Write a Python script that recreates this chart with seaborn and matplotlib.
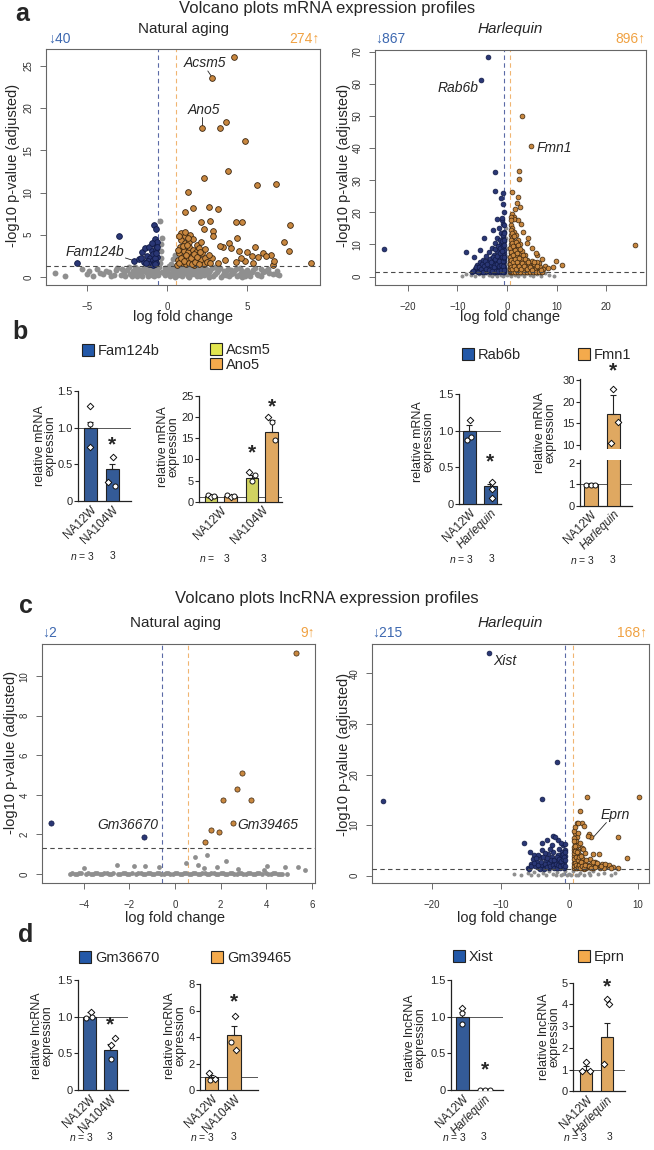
import pandas as pd
import matplotlib
matplotlib.use("Agg")
import matplotlib.pyplot as plt
import seaborn as sns
from matplotlib.patches import Patch

# ---------------- volcano data: (log fold change, -log10 adjusted p) ----------------
na_mrna_grey = [
    (-7.0, 0.45), (-6.4, 0.15), (-5.3, 1.0), (-4.9, 0.7), (-4.4, 0.9), (-4.0, 0.35), (-3.6, 0.6), (-3.1, 1.1),
    (-2.9, 0.25), (-2.5, 0.8), (-2.2, 0.1), (-2.0, 0.5), (-1.8, 1.0), (-1.6, 0.3), (-1.4, 0.7), (-1.2, 0.1),
    (-1.1, 1.2), (-0.9, 0.45), (-0.7, 0.9), (-0.55, 0.2), (-0.45, 1.6), (-0.4, 2.3), (-0.35, 3.1), (-0.4, 3.9),
    (-0.3, 4.6), (-0.46, 6.6), (-0.3, 0.6), (-0.15, 1.1), (-0.1, 0.2), (0.0, 0.7), (0.15, 0.35), (0.25, 1.5),
    (0.3, 1.0), (0.4, 2.1), (0.45, 0.5), (0.5, 2.6), (0.55, 1.2), (0.7, 0.2), (0.85, 0.8), (1.0, 0.4),
    (1.15, 1.1), (1.3, 0.15), (1.45, 0.7), (1.6, 1.2), (1.75, 0.35), (1.9, 0.9), (2.05, 0.1), (2.2, 0.6),
    (2.35, 1.1), (2.5, 0.3), (2.7, 0.8), (2.9, 0.15), (3.1, 0.55), (3.3, 1.05), (3.5, 0.25), (3.7, 0.75),
    (3.9, 0.1), (4.1, 0.5), (4.3, 0.95), (4.5, 0.2), (4.7, 0.65), (4.9, 0.1), (5.1, 0.4), (5.4, 0.8),
    (5.7, 0.2), (6.0, 0.55), (6.3, 1.0), (6.6, 0.3), (6.9, 0.7), (7.0, 0.25), (-2.7, 0.55), (-2.3, 0.35),
    (-1.9, 0.15), (-1.5, 0.95), (-1.0, 0.6), (-0.8, 0.15), (0.1, 1.25), (0.6, 0.55), (1.2, 0.75), (1.8, 0.55),
    (2.4, 0.45), (3.0, 1.15), (3.6, 0.45), (4.0, 0.8), (4.6, 0.45), (5.2, 0.15), (5.9, 0.9), (-3.3, 0.2),
    (-3.8, 0.75), (6.9, 0.3),
]
na_mrna_grey_band = [
    (-2.8, 0.9), (-2.6, 0.1), (-2.4, 1.2), (-2.1, 0.75), (-1.95, 0.4), (-1.7, 0.6), (-1.55, 0.15), (-1.35, 1.15),
    (-1.25, 0.45), (-1.05, 0.85), (-0.95, 0.2), (-0.85, 1.05), (-0.65, 0.5), (-0.5, 1.2), (-0.2, 0.45), (0.05, 0.95),
    (0.2, 0.1), (0.35, 0.75), (0.65, 1.0), (0.75, 0.4), (0.95, 0.15), (1.05, 0.9), (1.25, 0.5), (1.35, 1.2),
    (1.55, 0.3), (1.65, 0.95), (1.85, 0.15), (2.0, 0.75), (2.15, 1.2), (2.3, 0.25), (2.45, 0.9), (2.6, 0.55),
    (2.8, 1.1), (3.0, 0.35), (3.2, 0.85), (3.4, 0.05), (3.55, 0.65), (3.8, 1.0), (4.0, 0.3), (4.2, 0.7),
    (4.4, 0.15), (4.55, 1.05), (4.8, 0.45), (5.0, 0.85), (5.3, 0.55), (5.5, 1.1), (5.6, 0.35), (5.85, 0.1),
    (6.1, 0.75), (6.4, 0.45), (-3.2, 0.85), (-3.5, 0.1), (-4.2, 0.5), (-4.6, 0.15), (-5.0, 0.4), (-2.0, 1.2),
    (-1.0, 0.95), (0.5, 0.05), (1.4, 0.05), (2.6, 0.05), (3.7, 0.2), (4.7, 0.05), (-0.6, 0.7), (0.9, 1.2),
]
na_mrna_down = [
    (-5.65, 1.7), (-3.0, 4.8), (-2.05, 1.9), (-1.75, 2.1), (-1.55, 2.9), (-1.35, 3.4), (-1.25, 2.5), (-1.15, 3.6),
    (-1.05, 2.2), (-0.95, 3.1), (-0.9, 1.6), (-0.85, 2.7), (-0.8, 3.9), (-0.75, 4.5), (-0.72, 2.0), (-0.79, 6.2),
    (-0.68, 5.7), (-0.65, 4.1), (-1.45, 1.8), (-1.2, 1.9), (-1.0, 1.5), (-0.9, 2.0), (-0.8, 1.6), (-0.7, 3.3),
    (-0.62, 2.4), (-1.1, 1.5), (-0.95, 4.0), (-0.78, 2.3), (-0.66, 1.7), (-1.6, 2.3), (-1.3, 1.6), (-0.85, 1.4),
    (-0.75, 1.5), (-0.7, 2.8), (-0.64, 3.6),
]
na_mrna_up = [
    (4.2, 26.0), (2.8, 23.6), (2.2, 17.7), (3.3, 17.7), (3.7, 18.4), (4.9, 16.1), (3.8, 12.6), (2.3, 11.7),
    (5.6, 10.9), (6.8, 11.0), (1.3, 10.1), (1.1, 7.7), (1.65, 8.2), (2.6, 8.3), (3.2, 8.1), (7.7, 6.1),
    (2.1, 6.5), (2.7, 6.6), (4.3, 6.5), (4.7, 6.5), (7.3, 4.1), (7.6, 3.1), (9.0, 1.7), (5.5, 3.5),
    (4.5, 3.1), (6.5, 2.6), (6.0, 2.8), (2.3, 5.7), (2.9, 5.5), (3.5, 3.6), (3.9, 4.0), (4.0, 3.4),
    (3.3, 3.7), (2.9, 4.8), (4.4, 4.6), (5.0, 2.9), (5.3, 2.5), (5.7, 2.4), (6.2, 2.5), (6.6, 1.4),
    (6.7, 1.9), (5.4, 1.6), (4.9, 1.9), (4.6, 2.2), (4.3, 1.8), (3.6, 2.0), (3.2, 1.6), (2.8, 2.2),
    (0.65, 1.4), (0.7, 2.0), (0.75, 2.8), (0.8, 3.6), (0.85, 4.4), (0.9, 5.2), (0.95, 1.7), (1.0, 2.4),
    (1.05, 3.1), (1.1, 4.0), (1.15, 4.8), (1.2, 1.5), (1.25, 2.1), (1.3, 2.9), (1.35, 3.5), (1.4, 4.2),
    (1.45, 5.0), (1.5, 1.8), (1.55, 2.5), (1.6, 3.2), (1.65, 4.5), (1.7, 1.4), (1.75, 2.2), (1.8, 2.9),
    (1.85, 3.8), (1.9, 1.7), (1.95, 2.6), (2.0, 3.4), (2.1, 2.0), (2.15, 4.1), (2.2, 2.8), (2.3, 1.5),
    (2.35, 3.3), (2.4, 2.3), (2.5, 1.8), (0.68, 3.2), (0.78, 1.6), (0.88, 2.3), (0.98, 3.7), (1.08, 1.9),
    (1.18, 2.6), (1.28, 3.8), (1.38, 1.6), (1.48, 2.3), (1.58, 1.5), (1.68, 2.7), (1.78, 1.8), (1.88, 2.4),
    (1.98, 1.5), (2.08, 3.0), (2.6, 2.6), (2.7, 1.7), (1.1, 5.3), (1.3, 4.6), (0.72, 4.9),
]

hq_mrna_grey = [
    (-9.0, 0.2), (-8.3, 0.9), (-7.2, 0.5), (-6.4, 0.2), (-5.6, 0.8), (-4.9, 0.3), (-4.2, 1.0), (-3.6, 0.5),
    (-3.3, 0.6), (-3.0, 0.1), (-2.5, 0.7), (-2.0, 0.3), (-1.6, 1.0), (-1.2, 0.5), (-0.8, 0.2), (-0.5, 0.9),
    (-0.3, 2.0), (-0.25, 4.0), (-0.3, 6.5), (-0.2, 9.0), (-0.25, 12.0), (-0.15, 15.0), (0.0, 0.4), (0.2, 2.5),
    (0.3, 5.5), (0.25, 8.5), (0.4, 0.8), (0.8, 0.3), (1.2, 1.0), (1.7, 0.5), (2.2, 0.1), (2.8, 0.8),
    (3.4, 0.3), (4.0, 1.0), (4.6, 0.5), (5.3, 0.1), (6.0, 0.7), (6.8, 0.3), (7.6, 1.0), (8.4, 0.5), (9.5, 0.2),
]
hq_mrna_down = [
    (-3.75, 68.2), (-5.3, 61.2), (-2.5, 32.4), (-2.5, 26.6), (-0.85, 26.0), (-1.2, 24.6), (-24.8, 8.6), (-8.3, 7.6),
    (-6.7, 6.0), (-5.4, 8.3), (-4.6, 12.1), (-2.8, 14.4), (-2.1, 17.9), (-1.1, 17.5), (-1.0, 18.2), (-0.9, 16.5),
    (-1.6, 15.0), (-1.3, 13.5), (-0.8, 22.5), (-0.7, 20.0),
    (-7.0, 1.5), (-6.5, 2.4), (-6.2, 1.6), (-6.0, 3.5), (-5.8, 2.2), (-5.5, 4.5), (-5.3, 1.5), (-5.1, 3.0),
    (-4.9, 5.2), (-4.7, 2.0), (-4.5, 3.8), (-4.3, 6.5), (-4.1, 1.6), (-3.9, 2.7), (-3.8, 4.8), (-3.6, 7.8),
    (-3.4, 1.9), (-3.3, 3.4), (-3.1, 5.7), (-3.0, 9.0), (-2.9, 2.3), (-2.8, 4.2), (-2.6, 6.8), (-2.5, 10.5),
    (-2.4, 1.5), (-2.3, 3.0), (-2.2, 5.0), (-2.1, 8.0), (-2.0, 12.0), (-1.9, 2.0), (-1.8, 3.8), (-1.7, 6.0),
    (-1.6, 9.5), (-1.5, 11.5), (-1.45, 1.6), (-1.4, 2.9), (-1.3, 4.5), (-1.25, 7.0), (-1.2, 10.0), (-1.1, 1.8),
    (-1.05, 3.3), (-1.0, 5.5), (-0.95, 8.5), (-0.9, 12.5), (-0.85, 2.2), (-0.8, 4.0), (-0.75, 6.5), (-0.72, 9.0),
    (-0.7, 14.0), (-0.68, 1.5), (-0.66, 3.0), (-0.64, 5.0), (-0.62, 7.5), (-0.6, 11.0), (-3.5, 1.4), (-2.7, 1.4),
    (-1.95, 1.4), (-1.35, 1.4), (-0.9, 1.4), (-4.4, 1.4), (-5.6, 1.4), (-3.2, 2.5), (-2.2, 2.6), (-1.6, 2.4),
    (-1.0, 2.6), (-0.7, 2.4), (-2.6, 3.6), (-1.9, 4.6), (-1.4, 5.6), (-0.9, 6.8), (-0.65, 8.2), (-1.15, 3.9),
    (-0.8, 10.5),
]
hq_mrna_down_dense = [
    (-6.8, 1.9), (-6.3, 3.0), (-5.9, 1.4), (-5.7, 3.0), (-5.2, 2.4), (-5.0, 4.0), (-4.8, 1.5), (-4.6, 3.2),
    (-4.4, 5.0), (-4.2, 2.4), (-4.0, 4.0), (-3.7, 2.2), (-3.5, 5.5), (-3.2, 4.5), (-3.0, 1.8), (-2.9, 6.0),
    (-2.7, 3.0), (-2.5, 5.5), (-2.4, 8.5), (-2.3, 1.9), (-2.1, 4.0), (-2.0, 6.5), (-1.9, 9.5), (-1.8, 1.6),
    (-1.7, 3.2), (-1.6, 5.0), (-1.5, 7.5), (-1.4, 9.0), (-1.3, 2.2), (-1.2, 3.6), (-1.1, 6.2), (-1.0, 8.0),
    (-1.0, 11.0), (-0.9, 4.8), (-0.85, 9.5), (-0.8, 13.0), (-0.75, 3.2), (-0.7, 5.8), (-0.68, 11.5), (-0.65, 2.0),
    (-0.63, 6.0), (-0.62, 9.8), (-0.61, 13.5), (-0.6, 16.0),
]
hq_mrna_up = [
    (3.1, 50.1), (4.9, 40.5), (2.5, 33.0), (2.5, 30.3), (1.1, 26.2), (2.3, 24.7), (2.0, 23.0), (2.3, 17.5),
    (1.1, 19.5), (25.8, 9.9), (9.9, 5.0), (11.0, 3.5), (9.2, 3.1), (7.7, 3.2), (6.1, 6.8), (7.0, 5.4),
    (1.5, 18.5), (2.8, 16.5), (3.2, 14.0), (2.6, 21.8), (1.7, 21.0), (4.3, 12.0), (4.0, 10.5), (5.0, 9.0),
    (5.8, 7.5), (6.5, 4.3), (8.2, 2.8),
    (0.62, 1.5), (0.65, 3.0), (0.68, 5.0), (0.7, 7.5), (0.72, 10.0), (0.75, 13.0), (0.78, 16.0), (0.8, 2.0),
    (0.85, 4.0), (0.9, 6.5), (0.95, 9.0), (1.0, 12.0), (1.05, 15.0), (1.1, 1.6), (1.15, 3.3), (1.2, 5.5),
    (1.25, 8.0), (1.3, 11.0), (1.35, 14.0), (1.4, 2.4), (1.5, 4.6), (1.6, 7.0), (1.7, 9.8), (1.8, 12.8),
    (1.9, 1.5), (2.0, 3.5), (2.1, 6.0), (2.2, 8.6), (2.3, 11.5), (2.4, 2.2), (2.5, 4.5), (2.6, 7.2),
    (2.7, 10.0), (2.8, 1.6), (2.9, 3.2), (3.0, 5.4), (3.1, 8.0), (3.3, 2.4), (3.4, 4.4), (3.6, 6.6),
    (3.8, 1.5), (3.9, 3.3), (4.1, 5.2), (4.3, 2.2), (4.5, 4.0), (4.7, 1.6), (4.9, 3.0), (5.1, 5.0),
    (5.3, 2.0), (5.5, 3.8), (5.7, 1.5), (5.9, 2.8), (6.1, 4.6), (6.3, 1.9), (6.6, 3.0), (6.9, 1.5),
    (7.2, 2.4), (0.7, 1.4), (1.0, 1.4), (1.3, 1.4), (1.6, 1.4), (2.2, 1.4), (2.7, 1.4), (3.4, 1.4),
    (4.0, 1.4), (4.6, 1.4), (5.2, 1.4), (5.8, 1.4), (6.4, 1.4), (7.0, 1.4), (1.45, 17.8), (0.9, 18.5),
]
hq_mrna_up_dense = [
    (0.62, 2.3), (0.64, 4.0), (0.66, 6.2), (0.68, 8.8), (0.7, 11.5), (0.72, 14.5), (0.75, 17.5), (0.8, 3.0),
    (0.85, 5.2), (0.9, 7.8), (0.95, 10.5), (1.0, 13.5), (1.1, 2.4), (1.15, 4.4), (1.2, 6.6), (1.3, 9.4),
    (1.4, 12.5), (1.5, 3.2), (1.6, 5.6), (1.7, 8.2), (1.8, 10.8), (1.9, 2.4), (2.0, 4.5), (2.1, 7.2),
    (2.3, 9.8), (2.4, 3.4), (2.5, 5.8), (2.7, 8.5), (2.9, 2.4), (3.0, 4.2), (3.2, 6.8), (3.5, 3.2),
    (3.7, 5.4), (4.0, 2.4), (4.2, 4.4), (4.6, 3.0), (5.0, 2.0), (5.4, 4.4), (6.0, 3.4), (6.8, 2.0),
]

na_lnc_grey = [
    (-4.6, 0.02), (-4.4, 0.0), (-4.2, 0.03), (-4.0, 0.28), (-3.9, 0.01), (-3.8, 0.04), (-3.6, 0.0), (-3.4, 0.03),
    (-3.2, 0.01), (-3.0, 0.04), (-2.8, 0.0), (-2.56, 0.45), (-2.5, 0.02), (-2.3, 0.05), (-2.1, 0.0), (-1.9, 0.03),
    (-1.8, 0.42), (-1.7, 0.01), (-1.5, 0.04), (-1.3, 0.42), (-1.3, 0.0), (-1.1, 0.03), (-0.9, 0.01), (-0.7, 0.35),
    (-0.7, 0.04), (-0.5, 0.0), (-0.3, 0.03), (-0.1, 0.01), (0.1, 0.04), (0.3, 0.0), (0.48, 0.54), (0.5, 0.03),
    (0.7, 0.01), (0.88, 0.85), (0.9, 0.05), (1.02, 0.45), (1.1, 0.0), (1.28, 0.28), (1.3, 0.03), (1.42, 0.97),
    (1.5, 0.01), (1.7, 0.04), (1.83, 0.35), (1.9, 0.0), (2.1, 0.03), (2.24, 0.63), (2.3, 0.01), (2.5, 0.04),
    (2.7, 0.0), (2.78, 0.24), (2.9, 0.03), (3.1, 0.01), (3.3, 0.04), (3.5, 0.0), (3.7, 0.03), (3.9, 0.2),
    (4.05, 0.42), (4.1, 0.01), (4.3, 0.04), (4.5, 0.0), (4.6, 0.02), (4.82, 0.36), (4.9, 0.0), (5.38, 0.36),
    (5.7, 0.19),
]
na_lnc_grey_base = [
    (-4.5, 0.05), (-4.3, 0.02), (-4.1, 0.06), (-3.7, 0.02), (-3.5, 0.06), (-3.3, 0.01), (-3.1, 0.05), (-2.9, 0.02),
    (-2.7, 0.06), (-2.4, 0.01), (-2.2, 0.05), (-2.0, 0.02), (-1.6, 0.06), (-1.4, 0.02), (-1.2, 0.05), (-1.0, 0.01),
    (-0.8, 0.06), (-0.6, 0.02), (-0.4, 0.05), (-0.2, 0.02), (0.0, 0.06), (0.2, 0.01), (0.4, 0.05), (0.6, 0.02),
    (0.8, 0.06), (1.0, 0.02), (1.2, 0.05), (1.4, 0.01), (1.6, 0.06), (1.8, 0.02), (2.0, 0.05), (2.2, 0.02),
    (2.4, 0.06), (2.6, 0.01), (2.8, 0.05), (3.0, 0.02), (3.2, 0.06), (3.4, 0.02), (3.6, 0.05), (3.8, 0.01),
    (4.0, 0.05), (4.2, 0.02), (4.4, 0.06), (4.7, 0.01),
]
na_lnc_down = [(-5.44, 2.56), (-1.36, 1.86)]
na_lnc_up = [(5.31, 11.2), (2.92, 5.12), (2.74, 4.27), (2.12, 3.73), (3.32, 3.73), (2.53, 2.55), (1.6, 2.2),
             (1.94, 2.13), (1.32, 1.59)]

hq_lnc_grey = [
    (-8.0, 0.3), (-7.0, 0.1), (-6.0, 0.5), (-5.2, 0.8), (-4.5, 0.2), (-3.8, 0.6), (-3.0, 1.0), (-2.4, 0.3),
    (-1.8, 0.7), (-1.2, 0.1), (-0.6, 0.9), (0.0, 0.4), (0.5, 1.0), (1.0, 0.2), (1.6, 0.6), (2.2, 0.1),
    (2.8, 0.5), (3.5, 0.9), (4.2, 0.3), (5.0, 0.6), (6.0, 0.2), (6.7, 0.5), (-5.5, 0.1), (-3.4, 0.2),
    (-2.0, 0.05), (-0.9, 0.3), (-0.3, 0.1), (0.3, 0.2), (1.3, 0.05), (3.0, 0.15),
]
hq_lnc_down = [
    (-11.7, 44.1), (-27.1, 14.8), (-1.8, 22.5), (-3.9, 15.2), (-6.6, 6.5), (-5.7, 4.6), (-5.2, 4.1), (-4.0, 6.5),
    (-3.3, 7.0), (-2.3, 7.8), (-1.6, 7.0), (-4.0, 5.0), (-2.5, 6.0), (-2.1, 7.7),
    (-6.0, 1.6), (-5.6, 2.4), (-5.3, 3.2), (-5.0, 1.9), (-4.7, 2.8), (-4.4, 1.5), (-4.2, 3.6), (-3.9, 2.2),
    (-3.6, 1.7), (-3.4, 3.0), (-3.1, 4.2), (-2.9, 1.5), (-2.7, 2.5), (-2.5, 3.6), (-2.3, 4.6), (-2.1, 1.8),
    (-1.9, 2.9), (-1.7, 4.0), (-1.5, 5.2), (-1.4, 1.5), (-1.25, 2.4), (-1.1, 3.4), (-1.0, 4.6), (-0.9, 6.0),
    (-0.8, 1.7), (-0.72, 2.8), (-0.66, 3.9), (-0.62, 5.0), (-1.2, 6.4), (-2.8, 5.3), (-3.6, 4.5), (-4.6, 4.0),
]
hq_lnc_down_dense = [
    (-5.8, 1.4), (-5.5, 1.9), (-5.1, 2.6), (-4.9, 3.5), (-4.5, 2.2), (-4.3, 1.4), (-4.1, 2.8), (-3.8, 3.6),
    (-3.7, 1.4), (-3.5, 2.4), (-3.3, 1.8), (-3.2, 3.4), (-3.0, 2.6), (-2.8, 1.9), (-2.6, 3.1), (-2.4, 2.1),
    (-2.2, 1.5), (-2.2, 3.0), (-2.0, 2.4), (-1.8, 1.6), (-1.8, 3.6), (-1.6, 2.2), (-1.5, 3.2), (-1.3, 1.9),
    (-1.2, 2.9), (-1.1, 4.0), (-0.95, 2.2), (-0.9, 3.2), (-0.85, 4.2), (-0.75, 1.5), (-0.7, 3.6), (-0.68, 4.6),
    (-0.65, 2.0), (-0.63, 6.2), (-0.6, 3.0),
]
hq_lnc_up = [
    (10.1, 15.6), (2.55, 15.5), (7.07, 7.7), (8.4, 3.4), (7.05, 1.5), (1.56, 12.8), (1.1, 10.5), (1.8, 10.5),
    (2.2, 9.8), (2.9, 8.3), (3.1, 7.6), (2.7, 7.9), (1.1, 7.7), (2.3, 4.4), (3.8, 2.7), (4.8, 2.4),
    (5.4, 1.9), (1.3, 10.5), (4.3, 4.3), (3.5, 4.2),
    (0.62, 1.5), (0.65, 2.6), (0.7, 3.8), (0.75, 5.0), (0.8, 6.2), (0.85, 1.9), (0.9, 3.1), (0.95, 4.4),
    (1.0, 5.6), (1.05, 6.8), (1.1, 1.5), (1.15, 2.5), (1.2, 3.7), (1.25, 4.9), (1.3, 6.0), (1.4, 1.8),
    (1.5, 2.9), (1.6, 4.1), (1.7, 1.5), (1.8, 2.4), (1.9, 3.5), (2.0, 1.8), (2.2, 2.7), (2.4, 1.5),
    (2.6, 2.2), (2.9, 1.7), (3.2, 2.4), (3.5, 1.6), (3.9, 2.0), (4.4, 1.6), (5.0, 1.5), (5.8, 2.1),
    (6.3, 1.8), (0.75, 7.5), (0.9, 8.5), (1.8, 5.5), (2.2, 1.4), (3.0, 3.2),
]
hq_lnc_up_dense = [
    (0.62, 3.2), (0.64, 4.4), (0.66, 5.6), (0.68, 6.8), (0.7, 2.0), (0.72, 8.8), (0.8, 4.8), (0.85, 2.6),
    (0.9, 5.8), (0.95, 1.6), (1.0, 3.6), (1.05, 2.2), (1.1, 4.6), (1.2, 1.8), (1.25, 3.0), (1.35, 2.2),
    (1.45, 3.6), (1.55, 1.6), (1.65, 2.8), (1.75, 3.8), (1.9, 2.0), (2.1, 1.6), (2.3, 2.2), (2.5, 3.0),
    (2.8, 2.0), (3.1, 1.6), (3.4, 2.8), (3.7, 1.8), (4.1, 2.6), (4.6, 2.0), (5.2, 2.3), (6.0, 1.6),
    (1.2, 8.5), (0.8, 9.6), (1.5, 6.4), (2.0, 5.2),
]

# ---------------- qPCR bar data ----------------
fam124b_mean, fam124b_top = [1.0, 0.43], [1.08, 0.50]
fam124b_pts = [[1.30, 1.05, 0.73], [0.60, 0.26, 0.21]]
acsm5_mean, acsm5_top = [1.3, 5.7], [1.5, 6.3]
acsm5_pts = [[1.5, 1.0, 1.3], [7.0, 5.0, 6.3]]
ano5_mean, ano5_top = [1.3, 16.5], [1.5, 19.3]
ano5_pts = [[1.5, 1.1, 1.3], [20.0, 18.8, 14.6]]
rab6b_mean, rab6b_top = [1.0, 0.245], [1.08, 0.27]
rab6b_pts = [[1.15, 0.87, 0.92], [0.30, 0.20, 0.08]]
fmn1_mean, fmn1_top = [1.0, 17.1], [1.05, 21.6]
fmn1_pts = [[0.97, 0.97, 0.97], [22.8, 15.4, 10.4]]
gm36670_mean, gm36670_top = [1.0, 0.55], [1.06, 0.63]
gm36670_pts = [[1.07, 0.98, 0.99], [0.71, 0.62, 0.42]]
gm39465_mean, gm39465_top = [0.95, 4.15], [1.15, 4.85]
gm39465_pts = [[1.3, 0.75, 0.85], [5.6, 3.65, 3.0]]
xist_mean, xist_top = [1.0, 0.005], [1.07, 0.012]
xist_pts = [[1.12, 1.05, 0.90], [0.0, 0.0, 0.0]]
eprn_mean, eprn_top = [1.0, 2.5], [1.15, 3.15]
eprn_pts = [[1.35, 0.95, 0.95], [4.25, 4.0, 1.25]]

NA_GROUPS = ['NA12W', 'NA104W']
HQ_GROUPS = ['NA12W', 'Harlequin']

# ---------------- style ----------------
sns.set_style("ticks")
plt.rcParams['font.family'] = ['Liberation Sans', 'DejaVu Sans']
plt.rcParams['mathtext.fontset'] = 'custom'
plt.rcParams['mathtext.it'] = 'Liberation Sans:italic'
plt.rcParams['mathtext.rm'] = 'Liberation Sans'

GREY = '#8f8f8f'
NAVY, NAVY_EDGE = '#2a3775', '#111a45'
BROWN, BROWN_EDGE = '#c8873f', '#3a2610'
CNT_BLUE, CNT_ORANGE = '#3d68b0', '#f0a243'
BLUE_BAR, ORANGE_BAR, YELLOW_BAR = '#2358a8', '#f4aa4c', '#e2e54e'

W, H = 654, 1150
fig = plt.figure(figsize=(W / 100, H / 100), dpi=100)
fig.patch.set_facecolor('white')


def box(l, t, r, b):
    return [l / W, 1 - b / H, (r - l) / W, (b - t) / H]


def ftext(px, py, s, **kw):
    return fig.text(px / W, 1 - py / H, s, **kw)


def volcano(rect, grey, down, up, xlim, ylim, xticks, yticks, sizes):
    ax = fig.add_axes(box(*rect))
    sg, sc, lw = sizes
    sns.scatterplot(data=pd.DataFrame(grey, columns=['lfc', 'p']), x='lfc', y='p', color=GREY,
                    s=sg, linewidth=0, ax=ax, zorder=2)
    sns.scatterplot(data=pd.DataFrame(down, columns=['lfc', 'p']), x='lfc', y='p', color=NAVY,
                    edgecolor=NAVY_EDGE, s=sc, linewidth=lw, ax=ax, zorder=3)
    sns.scatterplot(data=pd.DataFrame(up, columns=['lfc', 'p']), x='lfc', y='p', color=BROWN,
                    edgecolor=BROWN_EDGE, s=sc, linewidth=lw, ax=ax, zorder=3)
    ax.axvline(-0.585, color='#5b6aa6', ls=(0, (4, 3)), lw=0.8, zorder=1)
    ax.axvline(0.585, color='#f0b571', ls=(0, (4, 3)), lw=0.8, zorder=1)
    ax.axhline(1.3, color='#4a4a4a', ls=(0, (4, 3)), lw=0.8, zorder=4)
    ax.set_xlim(*xlim)
    ax.set_ylim(*ylim)
    ax.set_xticks(xticks)
    ax.set_yticks(yticks)
    ax.set_xlabel('')
    ax.set_ylabel('')
    for s in ax.spines.values():
        s.set_color('#666666')
        s.set_linewidth(0.8)
        s.set_visible(True)
    ax.tick_params(axis='both', direction='out', length=4, width=0.6, colors='#555555',
                   labelsize=7, labelcolor='#333333')
    ax.tick_params(axis='x', pad=8)
    ax.tick_params(axis='y', pad=5, labelrotation=90)
    for lbl in ax.get_yticklabels():
        lbl.set_va('center')
    return ax


def style_bar_ax(ax, xlim, ylim, yticks, yticklabels, bottom=True):
    ax.set_xlim(*xlim)
    ax.set_ylim(*ylim)
    ax.set_yticks(yticks)
    ax.set_yticklabels(yticklabels)
    ax.set_xlabel('')
    ax.set_ylabel('')
    sns.despine(ax=ax)
    for side in ('left', 'bottom'):
        ax.spines[side].set_linewidth(0.9)
        ax.spines[side].set_color('#222222')
    ax.spines['bottom'].set_visible(bottom)
    ax.tick_params(axis='y', direction='out', length=3, width=0.8, labelsize=8, pad=1)
    ax.tick_params(axis='x', length=0, labelsize=8.5, pad=2)
    ax.axhline(1.0, color='#555555', lw=0.7, zorder=1)


def draw_points(ax, xpos, pts, offs, marks):
    for x0, vals, off, mk in zip(xpos, pts, offs, marks):
        for v, o, m in zip(vals, off, mk):
            ax.scatter(x0 + o, v, marker=m, s=11 if m == 'D' else 13, facecolor='white',
                       edgecolor='#111111', linewidth=0.7, zorder=5)


def simple_bars(ax, groups, mean, top, color):
    df = pd.DataFrame({'group': groups, 'value': mean})
    sns.barplot(data=df, x='group', y='value', order=groups, color=color, width=0.6,
                edgecolor='#222222', linewidth=0.8, errorbar=None, ax=ax, zorder=3)
    ax.errorbar([0, 1], mean, yerr=[[0, 0], [t - m for t, m in zip(top, mean)]], fmt='none',
                ecolor='#222222', elinewidth=0.8, capsize=2.5, capthick=0.8, zorder=4)


def rotate_labels(ax):
    for lbl in ax.get_xticklabels():
        lbl.set_rotation(45)
        lbl.set_ha('right')
        lbl.set_rotation_mode('anchor')
        if lbl.get_text() == 'Harlequin':
            lbl.set_style('italic')


def legend_patch(ax, px, py, items):
    handles = [Patch(facecolor=c, edgecolor='#222222', linewidth=0.8, label=t) for t, c in items]
    ax.legend(handles=handles, loc='upper left', bbox_to_anchor=(px / W, 1 - py / H),
              bbox_transform=fig.transFigure, frameon=False, fontsize=10.5, handlelength=0.85,
              handleheight=0.85, handletextpad=0.25, labelspacing=0.05, borderpad=0, borderaxespad=0)


def n_text(x_right, xs, py):
    ftext(x_right, py, '$n$ = 3' if len(xs) == 1 else '$n$ =', ha='right', va='center', fontsize=7.5)
    for x in xs:
        ftext(x, py, '3', ha='center', va='center', fontsize=7.5)


def ylabel_txt(px, py, s):
    ftext(px, py, s, rotation=90, ha='center', va='center', fontsize=9, linespacing=0.85)


def star(ax, x, y):
    ax.text(x, y, '*', fontsize=15, ha='center', va='center', fontweight='bold', clip_on=False)


# ---------------- headings ----------------
ftext(22, 14, 'a', fontsize=18, fontweight='bold', ha='center', va='center')
ftext(20, 332, 'b', fontsize=18, fontweight='bold', ha='center', va='center')
ftext(26, 606, 'c', fontsize=18, fontweight='bold', ha='center', va='center')
ftext(26, 935, 'd', fontsize=18, fontweight='bold', ha='center', va='center')
ftext(327, 9, 'Volcano plots mRNA expression profiles', fontsize=12, ha='center', va='center')
ftext(327, 598, 'Volcano plots lncRNA expression profiles', fontsize=12, ha='center', va='center')

# ---------------- panel a ----------------
ax = volcano((46, 49, 320, 285), na_mrna_grey + na_mrna_grey_band, na_mrna_down, na_mrna_up,
             (-7.56, 9.56), (-0.95, 27.0), [-5, 0, 5], [0, 5, 10, 15, 20, 25], (18, 17, 0.6))
ax.text(2.4, 25.3, 'Acsm5', style='italic', fontsize=10, ha='center', va='center')
ax.plot([2.55, 2.8], [24.4, 23.7], color='#222222', lw=0.6)
ax.text(2.3, 19.8, 'Ano5', style='italic', fontsize=10, ha='center', va='center')
ax.plot([2.2, 2.2], [19.0, 17.9], color='#222222', lw=0.6)
ax.text(-4.5, 2.9, 'Fam124b', style='italic', fontsize=10, ha='center', va='center')
ax.plot([-2.6, -2.1], [2.25, 1.95], color='#222222', lw=0.6)
ftext(183, 29, 'Natural aging', fontsize=11, ha='center', va='center')
ftext(48, 39, '\u219340', fontsize=10, color=CNT_BLUE, ha='left', va='center')
ftext(320, 39, '274\u2191', fontsize=10, color=CNT_ORANGE, ha='right', va='center')
ftext(13, 165, '-log10 p-value (adjusted)', rotation=90, fontsize=10.5, ha='center', va='center')
ftext(183, 317, 'log fold change', fontsize=10.5, ha='center', va='center')

ax = volcano((375, 50, 646, 285), hq_mrna_grey, hq_mrna_down + hq_mrna_down_dense,
             hq_mrna_up + hq_mrna_up_dense, (-26.6, 28.0), (-2.6, 70.5),
             [-20, -10, 0, 10, 20], [0, 10, 20, 30, 40, 50, 60, 70], (8, 12, 0.5))
ax.text(-9.8, 58.7, 'Rab6b', style='italic', fontsize=10, ha='center', va='center')
ax.text(6.0, 40.0, 'Fmn1', style='italic', fontsize=10, ha='left', va='center')
ftext(510, 29, 'Harlequin', fontsize=11, style='italic', ha='center', va='center')
ftext(375, 39, '\u2193867', fontsize=10, color=CNT_BLUE, ha='left', va='center')
ftext(646, 39, '896\u2191', fontsize=10, color=CNT_ORANGE, ha='right', va='center')
ftext(344, 165, '-log10 p-value (adjusted)', rotation=90, fontsize=10.5, ha='center', va='center')
ftext(510, 317, 'log fold change', fontsize=10.5, ha='center', va='center')

# ---------------- panel b ----------------
ax = fig.add_axes(box(78, 391, 131, 501))
simple_bars(ax, NA_GROUPS, fam124b_mean, fam124b_top, BLUE_BAR)
draw_points(ax, [0, 1], fam124b_pts, [[0, 0, 0], [0.06, -0.2, 0.14]], [['D', 'o', 'D'], ['D', 'D', 'o']])
style_bar_ax(ax, (-0.58, 1.88), (0, 1.5), [0, 0.5, 1.0, 1.5], ['0', '0.5', '1.0', '1.5'])
star(ax, 1, 0.76)
rotate_labels(ax)
legend_patch(ax, 82, 344, [('Fam124b', BLUE_BAR)])
ylabel_txt(45, 446, 'relative mRNA\nexpression')
n_text(95, [112.7], 556)

ax = fig.add_axes(box(199, 396, 282, 501.7))
genes = ['Acsm5', 'Ano5']
df = pd.DataFrame({'group': NA_GROUPS * 2, 'gene': ['Acsm5'] * 2 + ['Ano5'] * 2,
                   'value': acsm5_mean + ano5_mean})
sns.barplot(data=df, x='group', y='value', hue='gene', order=NA_GROUPS, hue_order=genes,
            palette=[YELLOW_BAR, ORANGE_BAR], width=0.95, gap=0.36, dodge=True, errorbar=None,
            edgecolor='#222222', linewidth=0.8, legend=False, ax=ax, zorder=3)
d = 0.2375
for mean, top, pts, sign in [(acsm5_mean, acsm5_top, acsm5_pts, -1), (ano5_mean, ano5_top, ano5_pts, 1)]:
    xs = [0 + sign * d, 1 + sign * d]
    ax.errorbar(xs, mean, yerr=[[0, 0], [t - m for t, m in zip(top, mean)]], fmt='none',
                ecolor='#222222', elinewidth=0.8, capsize=2.5, capthick=0.8, zorder=4)
    draw_points(ax, xs, pts, [[-0.08, 0.0, 0.08], [-0.08, 0.0, 0.08]], [['o', 'D', 'o'], ['D', 'o', 'o']])
style_bar_ax(ax, (-0.53, 1.49), (0, 25), [0, 5, 10, 15, 20, 25], ['0', '5', '10', '15', '20', '25'])
star(ax, 1 - d, 11.5)
star(ax, 1 + d, 22.5)
rotate_labels(ax)
legend_patch(ax, 210, 343, [('Acsm5', YELLOW_BAR), ('Ano5', ORANGE_BAR)])
ylabel_txt(168, 447, 'relative mRNA\nexpression')
n_text(215, [226.7, 263.3], 559)

ax = fig.add_axes(box(459, 394, 501, 504))
simple_bars(ax, HQ_GROUPS, rab6b_mean, rab6b_top, BLUE_BAR)
draw_points(ax, [0, 1], rab6b_pts, [[0.05, -0.12, 0.1], [0.05, 0.05, 0.05]], [['D', 'o', 'o'], ['D', 'D', 'D']])
style_bar_ax(ax, (-0.49, 1.5), (0, 1.5), [0, 0.5, 1.0, 1.5], ['0', '0.5', '1.0', '1.5'])
star(ax, 1, 0.58)
rotate_labels(ax)
legend_patch(ax, 462, 348, [('Rab6b', BLUE_BAR)])
ylabel_txt(423, 442, 'relative mRNA\nexpression')
n_text(474, [491.3], 559)

ax_lo = fig.add_axes(box(580, 460, 632, 505.7))
ax_hi = fig.add_axes(box(580, 379, 632, 449))
for a in (ax_lo, ax_hi):
    simple_bars(a, HQ_GROUPS, fmn1_mean, fmn1_top, ORANGE_BAR)
    draw_points(a, [0, 1], fmn1_pts, [[-0.2, 0.0, 0.2], [0.0, 0.22, -0.12]], [['o', 'o', 'o'], ['D', 'D', 'D']])
style_bar_ax(ax_lo, (-0.48, 1.83), (0, 2.13), [0, 1, 2], ['0', '1', '2'])
style_bar_ax(ax_hi, (-0.48, 1.83), (9.1, 25.2), [10, 15, 20, 25], ['10', '15', '20', '30'], bottom=False)
ax_hi.set_xticks([])
star(ax_hi, 1, 27.0)
rotate_labels(ax_lo)
legend_patch(ax_lo, 578, 348, [('Fmn1', ORANGE_BAR)])
ylabel_txt(545, 433, 'relative mRNA\nexpression')
n_text(595, [612.7], 560)

# ---------------- panel c ----------------
ax = volcano((42, 644, 315, 883), na_lnc_grey + na_lnc_grey_base, na_lnc_down, na_lnc_up,
             (-5.83, 6.14), (-0.46, 11.63), [-4, -2, 0, 2, 4, 6], [0, 2, 4, 6, 8, 10], (12, 14, 0.5))
ax.text(-0.75, 2.48, 'Gm36670', style='italic', fontsize=10, ha='right', va='center')
ax.text(2.75, 2.48, 'Gm39465', style='italic', fontsize=10, ha='left', va='center')
ftext(175, 623, 'Natural aging', fontsize=11, ha='center', va='center')
ftext(42, 633, '\u21932', fontsize=10, color=CNT_BLUE, ha='left', va='center')
ftext(315, 633, '9\u2191', fontsize=10, color=CNT_ORANGE, ha='right', va='center')
ftext(11, 752, '-log10 p-value (adjusted)', rotation=90, fontsize=10.5, ha='center', va='center')
ftext(175, 918, 'log fold change', fontsize=10.5, ha='center', va='center')

ax = volcano((372, 644, 649, 883), hq_lnc_grey, hq_lnc_down + hq_lnc_down_dense, hq_lnc_up + hq_lnc_up_dense,
             (-28.7, 11.6), (-1.45, 45.8), [-20, -10, 0, 10], [0, 10, 20, 30, 40], (8, 12, 0.5))
ax.text(-11.1, 42.4, 'Xist', style='italic', fontsize=10, ha='left', va='center')
ax.text(6.7, 12.0, 'Eprn', style='italic', fontsize=10, ha='center', va='center')
ax.plot([5.4, 3.5], [10.5, 7.6], color='#222222', lw=0.6)
ftext(510, 623, 'Harlequin', fontsize=11, style='italic', ha='center', va='center')
ftext(372, 633, '\u2193215', fontsize=10, color=CNT_BLUE, ha='left', va='center')
ftext(647, 633, '168\u2191', fontsize=10, color=CNT_ORANGE, ha='right', va='center')
ftext(344, 754, '-log10 p-value (adjusted)', rotation=90, fontsize=10.5, ha='center', va='center')
ftext(507, 918, 'log fold change', fontsize=10.5, ha='center', va='center')

# ---------------- panel d ----------------
ax = fig.add_axes(box(78, 980, 128, 1090))
simple_bars(ax, NA_GROUPS, gm36670_mean, gm36670_top, BLUE_BAR)
draw_points(ax, [0, 1], gm36670_pts, [[0.05, -0.15, 0.12], [0.22, 0.05, 0.05]], [['D', 'o', 'o'], ['D', 'D', 'o']])
style_bar_ax(ax, (-0.55, 1.84), (0, 1.5), [0, 0.5, 1.0, 1.5], ['0', '0.5', '1.0', '1.5'])
star(ax, 1, 0.89)
rotate_labels(ax)
legend_patch(ax, 79, 951, [('Gm36670', BLUE_BAR)])
ylabel_txt(42, 1036, 'relative lncRNA\nexpression')
n_text(94, [110], 1137)

ax = fig.add_axes(box(200, 984, 258, 1090))
simple_bars(ax, NA_GROUPS, gm39465_mean, gm39465_top, ORANGE_BAR)
draw_points(ax, [0, 1], gm39465_pts, [[-0.12, -0.05, 0.15], [0.05, -0.12, 0.08]], [['D', 'o', 'D'], ['D', 'o', 'D']])
style_bar_ax(ax, (-0.51, 2.07), (0, 8), [0, 2, 4, 6, 8], ['0', '2', '4', '6', '8'])
star(ax, 1, 6.66)
rotate_labels(ax)
legend_patch(ax, 211, 951, [('Gm39465', ORANGE_BAR)])
ylabel_txt(175, 1036, 'relative lncRNA\nexpression')
n_text(215, [233.3], 1137)

ax = fig.add_axes(box(451, 980, 503, 1090))
simple_bars(ax, HQ_GROUPS, xist_mean, xist_top, BLUE_BAR)
draw_points(ax, [0, 1], xist_pts, [[0.0, 0.0, 0.0], [-0.22, 0.0, 0.22]], [['D', 'o', 'o'], ['o', 'o', 'o']])
style_bar_ax(ax, (-0.51, 1.82), (0, 1.5), [0, 0.5, 1.0, 1.5], ['0', '0.5', '1.0', '1.5'])
star(ax, 1, 0.27)
rotate_labels(ax)
legend_patch(ax, 453, 950, [('Xist', BLUE_BAR)])
ylabel_txt(415, 1038, 'relative lncRNA\nexpression')
n_text(467, [483.7], 1137)

ax = fig.add_axes(box(573, 982.7, 625, 1091.3))
simple_bars(ax, HQ_GROUPS, eprn_mean, eprn_top, ORANGE_BAR)
draw_points(ax, [0, 1], eprn_pts, [[0.0, -0.18, 0.18], [0.0, 0.08, -0.12]], [['D', 'D', 'D'], ['D', 'D', 'D']])
style_bar_ax(ax, (-0.62, 1.86), (0, 5), [0, 1, 2, 3, 4, 5], ['0', '1', '2', '3', '4', '5'])
star(ax, 1, 4.82)
rotate_labels(ax)
legend_patch(ax, 578, 950, [('Eprn', ORANGE_BAR)])
ylabel_txt(549, 1037, 'relative lncRNA\nexpression')
n_text(588, [609.7], 1137)

fig.savefig('out.png', dpi=100, facecolor='white')
